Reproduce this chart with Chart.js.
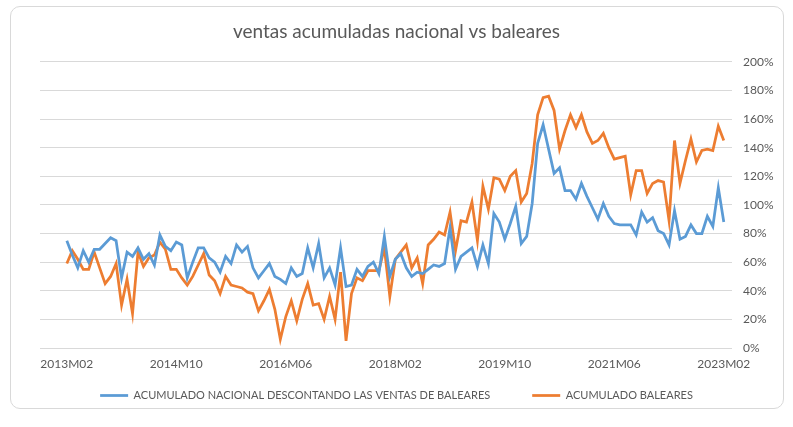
<!DOCTYPE html>
<html>
<head>
<meta charset="utf-8">
<script src="https://cdn.jsdelivr.net/npm/chart.js@4"></script>
<style>
  html, body { margin: 0; padding: 0; background: #fff; }
  #wrap { position: relative; width: 793px; height: 427px; }
  #frame { position: absolute; left: 10px; top: 6px; width: 774px; height: 403px;
           border: 1px solid #d9d9d9; border-radius: 10px; box-sizing: border-box; }
  #myChart { position: absolute; left: 0; top: 0; }
</style>
</head>
<body>
<div id="wrap">
  <div id="frame"></div>
  <canvas id="myChart" width="793" height="427"></canvas>
</div>
<script>
// one value per month, 2013M02 .. 2023M02
const tickLabels = ['2013M02', '2014M10', '2016M06', '2018M02', '2019M10', '2021M06', '2023M02'];

const nacional = [
    75, 65, 56, 68, 60, 69, 69, 73, 77, 75,
    49, 67, 64, 70, 62, 66, 58, 79, 71, 68,
    74, 72, 49, 60, 70, 70, 63, 60, 53, 64,
    59, 72, 67, 71, 56, 49, 54, 59, 50, 48,
    45, 56, 50, 52, 70, 56, 73, 49, 56, 44,
    70, 43, 44, 55, 50, 57, 60, 52, 78, 50,
    62, 66, 56, 50, 53, 52, 55, 58, 57, 59,
    84, 55, 64, 67, 70, 57, 72, 59, 94, 88,
    76, 87, 99, 73, 78, 101, 143, 156, 139, 122,
    126, 110, 110, 104, 115, 106, 98, 90, 101, 92,
    87, 86, 86, 86, 79, 95, 88, 91, 82, 80,
    72, 96, 76, 78, 86, 80, 80, 92, 85, 112,
    88
];

const baleares = [
    59, 68, 62, 55, 55, 67, 56, 45, 50, 59,
    30, 48, 24, 67, 57, 63, 65, 74, 69, 55,
    55, 49, 44, 50, 58, 66, 51, 47, 38, 50,
    44, 43, 42, 39, 38, 26, 33, 41, 27, 6,
    22, 33, 19, 34, 45, 30, 31, 20, 36, 20,
    53, 5, 38, 49, 47, 54, 54, 54, 70, 36,
    62, 67, 72, 56, 63, 45, 72, 76, 81, 79,
    95, 68, 89, 88, 102, 75, 113, 97, 119, 118,
    110, 120, 124, 102, 108, 129, 163, 175, 176, 166,
    139, 152, 163, 154, 163, 151, 143, 145, 150, 140,
    132, 133, 134, 107, 124, 124, 108, 115, 117, 116,
    89, 145, 115, 131, 146, 130, 138, 139, 138, 155,
    145
];

const textColor = '#595959';
const gridColor = '#d9d9d9';
const font = 'Lato, "Open Sans", sans-serif';

const data = {
    datasets: [{
        label: 'ACUMULADO NACIONAL DESCONTANDO LAS VENTAS DE BALEARES',
        borderColor: '#5b9bd5',
        backgroundColor: '#5b9bd5',
        borderWidth: 2.75,
        pointRadius: 0,
        tension: 0,
        yAxisID: 'y',
        data: nacional.map((v, i) => ({x: i, y: v})),
    }, {
        label: 'ACUMULADO BALEARES',
        borderColor: '#ed7d31',
        backgroundColor: '#ed7d31',
        borderWidth: 2.75,
        pointRadius: 0,
        tension: 0,
        yAxisID: 'y',
        data: baleares.map((v, i) => ({x: i, y: v})),
    }],
};

const config = {
    type: 'line',
    data: data,
    options: {
        responsive: false,
        animation: false,
        devicePixelRatio: 1,
        layout: { padding: { left: 0, right: 0, top: 0, bottom: 16 } },
        plugins: {
            title: {
                display: true,
                text: 'ventas acumuladas nacional vs baleares',
                color: textColor,
                font: { family: font, size: 19, weight: 'normal' },
                padding: { top: 20, bottom: 19 }
            },
            legend: {
                position: 'bottom',
                labels: {
                    usePointStyle: true,
                    pointStyle: 'line',
                    pointStyleWidth: 28,
                    color: textColor,
                    font: { family: font, size: 11 },
                    padding: 42
                }
            },
            tooltip: { enabled: false }
        },
        scales: {
            x: {
                type: 'linear',
                min: -4.9,
                max: 121.5,
                grid: { display: false },
                border: { display: false },
                afterBuildTicks: (scale) => {
                    scale.ticks = tickLabels.map((l, k) => ({value: k * 20}));
                },
                afterFit: (scale) => { scale.height = 0; },
                ticks: {
                    mirror: true,   // keeps labels unclipped below the zero-height axis
                    color: textColor,
                    font: { family: font, size: 12 },
                    padding: -23,
                    maxRotation: 0,
                    autoSkip: false,
                    callback: (v) => tickLabels[v / 20]
                }
            },
            spacer: {
                position: 'left',
                grid: { display: false },
                border: { display: false },
                ticks: { display: false },
                afterFit: (scale) => { scale.width = 40; }
            },
            y: {
                position: 'right',
                min: 0,
                max: 200,
                grid: { color: gridColor, drawTicks: false },
                border: { display: false },
                afterFit: (scale) => { scale.width = 61; },
                ticks: {
                    stepSize: 20,
                    padding: 11,
                    color: textColor,
                    font: { family: font, size: 12 },
                    callback: (v) => v + '%'
                }
            }
        }
    }
};

const myChart = new Chart(document.getElementById('myChart'), config);
</script>
</body>
</html>
